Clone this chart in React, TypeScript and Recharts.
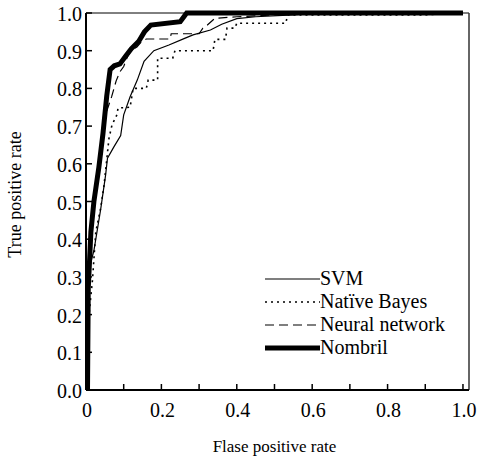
import React from 'react';
import { LineChart, Line, XAxis, YAxis, ReferenceLine, Legend } from 'recharts';

const FONT = "'Liberation Serif', 'DejaVu Serif', 'Times New Roman', Times, serif";

// ROC points (false positive rate, true positive rate)
const SVM_FPR = [0, 0.004, 0.008, 0.021, 0.039, 0.052, 0.057, 0.074, 0.092, 0.1, 0.117, 0.136, 0.154, 0.18, 0.22, 0.26, 0.284, 0.33, 0.36, 0.4, 0.45, 0.55, 0.62, 1];
const SVM_TPR = [0, 0.2, 0.32, 0.37, 0.48, 0.57, 0.615, 0.645, 0.675, 0.73, 0.778, 0.822, 0.872, 0.9, 0.915, 0.932, 0.942, 0.955, 0.97, 0.985, 0.99, 0.995, 1, 1];

const NB_FPR = [0, 0.004, 0.008, 0.017, 0.026, 0.039, 0.048, 0.061, 0.069, 0.082, 0.085, 0.117, 0.125, 0.16, 0.165, 0.19, 0.19, 0.23, 0.236, 0.337, 0.342, 0.37, 0.374, 0.395, 0.4, 0.53, 0.535, 0.9, 1];
const NB_TPR = [0, 0.1, 0.2, 0.29, 0.42, 0.483, 0.544, 0.668, 0.703, 0.73, 0.748, 0.75, 0.8, 0.8, 0.822, 0.822, 0.88, 0.88, 0.9, 0.9, 0.93, 0.93, 0.96, 0.96, 0.973, 0.973, 0.995, 0.995, 1];

const NN_FPR = [0, 0.004, 0.012, 0.025, 0.04, 0.055, 0.068, 0.08, 0.09, 0.1, 0.11, 0.12, 0.135, 0.148, 0.16, 0.223, 0.226, 0.3, 0.31, 0.322, 0.342, 0.4, 0.5, 0.6, 1];
const NN_TPR = [0, 0.25, 0.42, 0.55, 0.65, 0.74, 0.778, 0.82, 0.844, 0.858, 0.884, 0.9, 0.91, 0.925, 0.931, 0.931, 0.945, 0.945, 0.96, 0.968, 0.986, 0.99, 0.995, 1, 1];

const NOMBRIL_FPR = [0.004, 0.006, 0.013, 0.021, 0.034, 0.045, 0.055, 0.064, 0.075, 0.09, 0.105, 0.12, 0.14, 0.155, 0.172, 0.25, 0.267, 1];
const NOMBRIL_TPR = [0, 0.27, 0.42, 0.5, 0.59, 0.68, 0.78, 0.85, 0.86, 0.865, 0.885, 0.905, 0.925, 0.95, 0.968, 0.977, 1, 1];

const SERIES_NAMES = ['SVM', 'Natïve Bayes', 'Neural network', 'Nombril'];
const X_TICKS = [0, 0.1, 0.2, 0.3, 0.4, 0.5, 0.6, 0.7, 0.8, 0.9, 1.0];
const Y_TICKS = [0, 0.1, 0.2, 0.3, 0.4, 0.5, 0.6, 0.7, 0.8, 0.9, 1.0];

const zip = (fpr: number[], tpr: number[]) => fpr.map((f, i) => ({ fpr: f, tpr: tpr[i] }));

const SERIES = [
  { name: SERIES_NAMES[0], data: zip(SVM_FPR, SVM_TPR), width: 1.2, dash: undefined },
  { name: SERIES_NAMES[1], data: zip(NB_FPR, NB_TPR), width: 1.6, dash: '2 4' },
  { name: SERIES_NAMES[2], data: zip(NN_FPR, NN_TPR), width: 1.2, dash: '9 5' },
  { name: SERIES_NAMES[3], data: zip(NOMBRIL_FPR, NOMBRIL_TPR), width: 5, dash: undefined },
];

const tickStyle = { fontFamily: FONT, fontSize: 20 };

const YTick = ({ x, y, payload }: any) => (
  <g>
    <line x1={x} y1={y} x2={x + 6} y2={y} stroke="#000" strokeWidth={1.5} />
    <text x={x - 4} y={y + 1} dy="0.35em" textAnchor="end" style={tickStyle} fill="#000">
      {payload.value.toFixed(1)}
    </text>
  </g>
);

const XTick = ({ x, y, payload }: any) => {
  const i = Math.round(payload.value * 10);
  return (
    <g>
      <line x1={x} y1={y} x2={x} y2={y - 6} stroke="#000" strokeWidth={1.5} />
      {i % 2 === 0 && (
        <text x={x + 1} y={y + 27} textAnchor="middle" style={tickStyle} fill="#000">
          {i === 0 ? '0' : payload.value.toFixed(1)}
        </text>
      )}
    </g>
  );
};

const XTitle = ({ viewBox }: any) => (
  <text x={viewBox.x + viewBox.width / 2 - 3} y={viewBox.y + 62} textAnchor="middle" style={{ fontFamily: FONT, fontSize: 17 }} fill="#000">
    Flase positive rate
  </text>
);

const YTitle = ({ viewBox }: any) => {
  const cx = viewBox.x + 15;
  const cy = viewBox.y + viewBox.height / 2 - 7;
  return (
    <text x={cx} y={cy} dy="0.35em" textAnchor="middle" style={{ fontFamily: FONT, fontSize: 18 }} fill="#000" transform={`rotate(-90 ${cx} ${cy})`}>
      True positive rate
    </text>
  );
};

const CustomLegend = () => (
  <div style={{ fontFamily: FONT, fontSize: 20, color: '#000' }}>
    {SERIES.map((s) => (
      <div key={s.name} style={{ display: 'flex', alignItems: 'center', height: 23 }}>
        <svg width={55} height={10} style={{ display: 'block', flex: 'none' }}>
          <line x1={0} y1={5} x2={55} y2={5} stroke="#000" strokeWidth={s.width} strokeDasharray={s.dash} />
        </svg>
        <span style={{ lineHeight: '23px', whiteSpace: 'nowrap' }}>{s.name}</span>
      </div>
    ))}
  </div>
);

export default function App() {
  return (
    <div style={{ position: 'absolute', left: 0, top: 0, background: '#fff', fontFamily: FONT }}>
      <LineChart width={481} height={458} margin={{ top: 13, right: 12, bottom: 0, left: 0 }}>
        <XAxis
          dataKey="fpr"
          type="number"
          domain={[0, 1.016]}
          ticks={X_TICKS}
          interval={0}
          allowDataOverflow
          height={68}
          tickSize={0}
          tickMargin={0}
          tickLine={false}
          axisLine={{ stroke: '#000', strokeWidth: 2 }}
          tick={<XTick />}
          label={<XTitle />}
        />
        <YAxis
          type="number"
          domain={[0, 1]}
          ticks={Y_TICKS}
          interval={0}
          width={86}
          tickSize={0}
          tickMargin={0}
          tickLine={false}
          axisLine={{ stroke: '#000', strokeWidth: 2 }}
          tick={<YTick />}
          label={<YTitle />}
        />
        <ReferenceLine y={1} stroke="#000" strokeWidth={1} />
        <ReferenceLine x={1.016} stroke="#333" strokeWidth={1.5} />
        {SERIES.map((s) => (
          <Line
            key={s.name}
            data={s.data}
            dataKey="tpr"
            name={s.name}
            type="linear"
            stroke="#000"
            strokeWidth={s.width}
            strokeDasharray={s.dash}
            strokeLinejoin="miter"
            dot={false}
            activeDot={false}
            isAnimationActive={false}
          />
        ))}
        <Legend
          layout="horizontal"
          align="center"
          verticalAlign="middle"
          content={<CustomLegend />}
          wrapperStyle={{ position: 'absolute', left: 265, top: 267, width: 210 }}
        />
      </LineChart>
    </div>
  );
}
